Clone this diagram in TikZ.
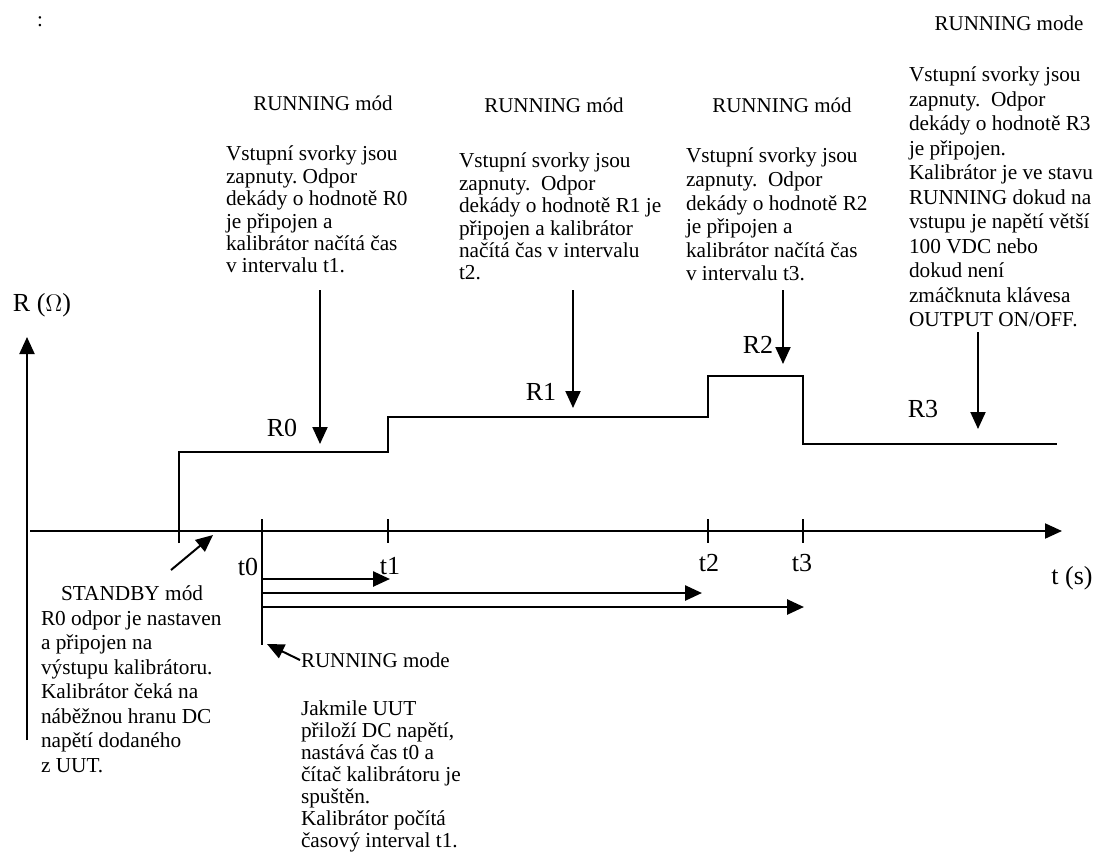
\documentclass[tikz,border=0pt]{standalone}
\usepackage{fontspec}
\setmainfont{Liberation Serif}
\usetikzlibrary{arrows.meta}

\begin{document}
\begin{tikzpicture}[x=0.5pt, y=-0.5pt, line width=1pt,
    tip/.style={-{Triangle[length=8.5pt,width=7.5pt]}},
    popis/.style={align=left, anchor=north west, inner sep=0pt, font=\fontsize{10.65}{#1}\selectfont},
    popis/.default=11.2pt,
    hlavicka/.style={inner sep=0pt, font=\fontsize{10.5}{12}\selectfont},
    stitek/.style={inner sep=0pt, font=\fontsize{13}{15}\selectfont}]
    \useasboundingbox (0,0) rectangle (1096,867);

    % Osy
    \coordinate (ox0) at (30,531);
    \coordinate (ox1) at (1062,531);
    \coordinate (oy0) at (27,740);
    \coordinate (oy1) at (27,337);
    \draw[tip] (ox0) -- (ox1);
    \draw[tip] (oy0) -- (oy1);
    \node[stitek] (osaR) at (42,305) {R ($\Omega$)};
    \node[stitek] (osaT) at (1072,578) {t (s)};
    \node[hlavicka] (dvojtecka) at (40,22) {:};

    % Znacky
    \foreach \x/\lx/\y/\n in {388/390/566/t1, 708/709/563/t2, 803/802/563/t3} {
        \draw (\x,519) -- (\x,543);
        \node[stitek] (\n) at (\lx,\y) {\n};
    }
    \draw (262,519) -- (262,645);
    \node[stitek] (t0) at (248,567) {t0};

    % Prubeh R(t)
    \draw (179,543) -- (179,452) -- (388,452) -- (388,417) -- (708,417)
        -- (708,376) -- (803,376) -- (803,444) -- (1057,444);
    \node[stitek] (R0) at (282,428) {R0};
    \node[stitek] (R1) at (541,392) {R1};
    \node[stitek] (R2) at (758,345) {R2};
    \node[stitek] (R3) at (923,409) {R3};

    % Intervaly t1, t2, t3
    \foreach \y/\x/\n in {579/390/i1, 593/702/i2, 607/804/i3} {
        \coordinate (\n-a) at (262,\y);
        \coordinate (\n-b) at (\x,\y);
        \draw[tip, line width=1.3pt] (\n-a) -- (\n-b);
    }

    % Sipky k prubehu
    \foreach \n/\x/\a/\b in {s0/320/290/444, s1/573/290/408, s2/783/290/364, s3/978/332/429} {
        \coordinate (\n-a) at (\x,\a);
        \coordinate (\n-b) at (\x,\b);
        \draw[tip] (\n-a) -- (\n-b);
    }

    % Popisy nahore
    \node[hlavicka] (mod1) at (323,103) {RUNNING mód};
    \node[hlavicka] (mod2) at (554,105) {RUNNING mód};
    \node[hlavicka] (mod3) at (782,105) {RUNNING mód};
    \node[hlavicka] (mod4) at (1009,23) {RUNNING mode};

    \node[popis] (blok1) at (225,145) {Vstupní svorky jsou\\ zapnuty.\ Odpor\\
        dekády o hodnotě R0\\ je připojen a\\ kalibrátor načítá čas\\ v intervalu t1.};
    \node[popis] (blok2) at (458,152) {Vstupní svorky jsou\\ zapnuty.\ \ Odpor\\
        dekády o hodnotě R1 je\\ připojen a kalibrátor\\ načítá čas v intervalu\\ t2.};
    \node[popis=11.8pt] (blok3) at (685,147) {Vstupní svorky jsou\\ zapnuty.\ \ Odpor\\
        dekády o hodnotě R2\\ je připojen a\\ kalibrátor načítá čas\\ v intervalu t3.};
    \node[popis=12.25pt] (blok4) at (908,66) {Vstupní svorky jsou\\ zapnuty.\ \ Odpor\\
        dekády o hodnotě R3\\ je připojen.\\ Kalibrátor je ve stavu\\ RUNNING dokud na\\
        vstupu je napětí větší\\ 100 VDC nebo\\ dokud není\\ zmáčknuta klávesa\\ OUTPUT ON/OFF.};

    % Popisy dole
    \coordinate (sb-a) at (171,570);
    \coordinate (sb-b) at (213,535);
    \draw[tip] (sb-a) -- (sb-b);
    \node[popis=12.25pt] (standby) at (40,585) {\hspace*{10pt}STANDBY mód\\ R0 odpor je nastaven\\
        a připojen na\\ výstupu kalibrátoru.\\ Kalibrátor čeká na\\ náběžnou hranu DC\\
        napětí dodaného\\ z UUT.};

    \node[hlavicka, anchor=west] (runmode) at (300,660) {RUNNING mode};
    \coordinate (rm-b) at (267,644);
    \draw[tip] (runmode.west) -- (rm-b);
    \node[popis=11pt] (jakmile) at (300,700) {Jakmile UUT\\ přiloží DC napětí,\\
        nastává čas t0 a\\ čítač kalibrátoru je\\ spuštěn.\\ Kalibrátor počítá\\ časový interval t1.};
\end{tikzpicture}
\end{document}
